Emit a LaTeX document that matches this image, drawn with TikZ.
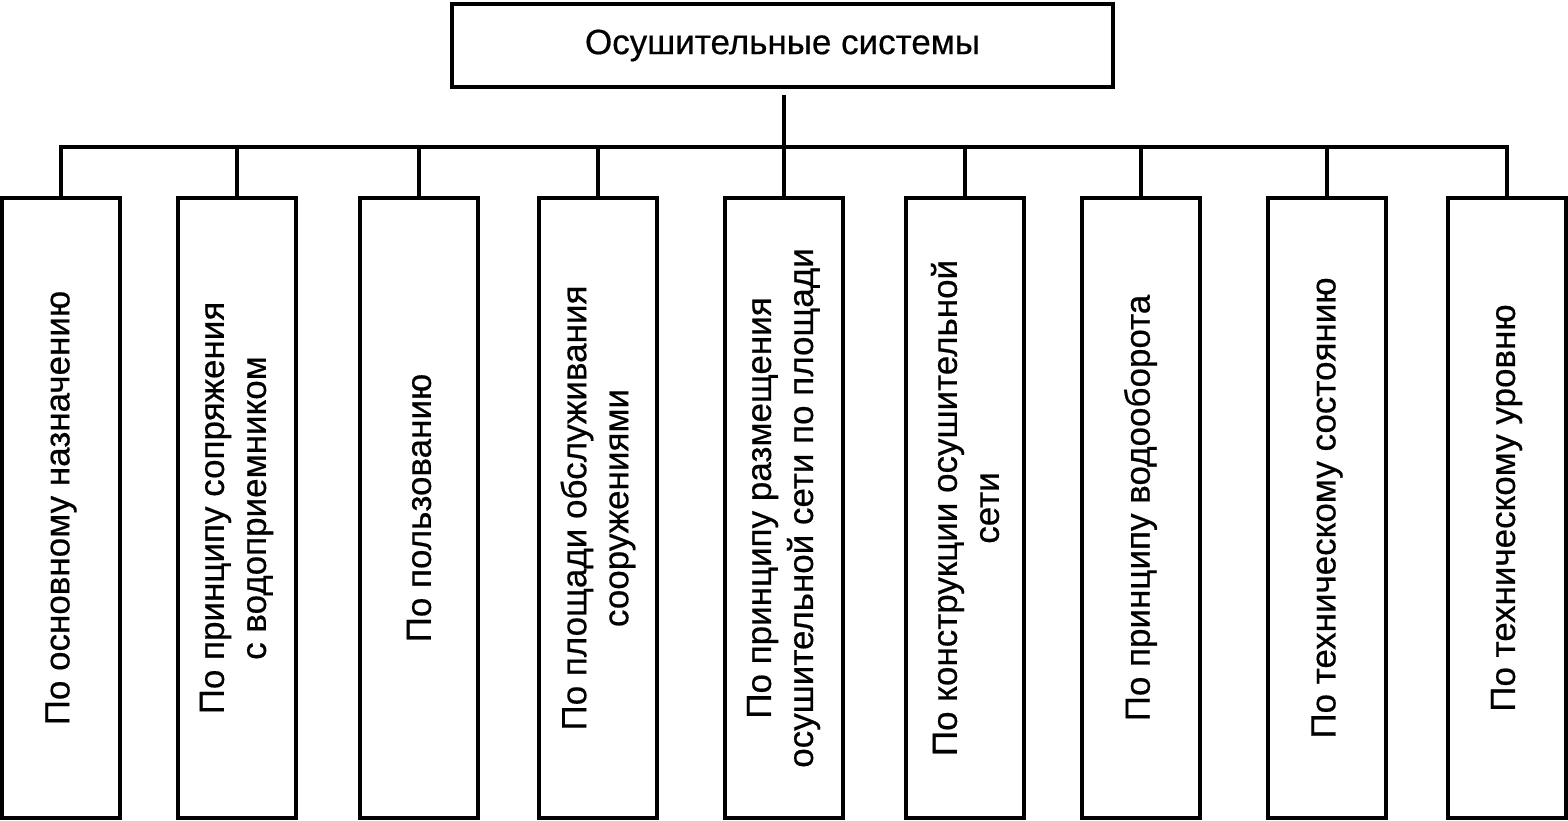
\documentclass[tikz,border=0pt]{standalone}
\usepackage{fontspec}
\setmainfont{Liberation Sans}[FakeBold=0.5]
\newfontfamily\diagfont{Liberation Sans}[FakeBold=0.5]
\begin{document}
\begin{tikzpicture}[x=1pt,y=-1pt,
  line width=4pt,
  catbox/.style={draw, minimum width=118pt, minimum height=620pt, inner sep=0pt},
  cattext/.style={rotate=90, align=center, inner sep=0pt, font=\diagfont\fontsize{35}{42}\selectfont},
  topbox/.style={draw, minimum width=661pt, minimum height=83pt, inner sep=0pt, font=\diagfont\fontsize{35}{42}\selectfont},
  conn/.style={draw, line width=4pt, line cap=rect}]
\useasboundingbox (0,0) rectangle (1568,820);
\node[topbox] (top) at (782.5,45.5) {\raisebox{-2pt}{Осушительные системы}};
\coordinate (hub) at (783.5,147);
\node[catbox] (b1) at (61,508) {};
\node[catbox] (b2) at (236.5,508) {};
\node[catbox] (b3) at (419,508) {};
\node[catbox] (b4) at (598,508) {};
\node[catbox] (b5) at (783.5,508) {};
\node[catbox] (b6) at (965,508) {};
\node[catbox] (b7) at (1140.5,508) {};
\node[catbox] (b8) at (1327,508) {};
\node[catbox] (b9) at (1506.5,508) {};
\node[cattext] (t1) at (b1) {По основному назначению};
\node[cattext] (t2) at (b2) {По принципу сопряжения\\с водоприемником};
\node[cattext] (t3) at (b3) {По пользованию};
\node[cattext] (t4) at (b4) {По площади обслуживания\\сооружениями};
\node[cattext] (t5) at (b5) {По принципу размещения\\осушительной сети по площади};
\node[cattext] (t6) at (b6) {По конструкции осушительной\\сети};
\node[cattext] (t7) at (b7) {По принципу водооборота};
\node[cattext] (t8) at (b8) {По техническому состоянию};
\node[cattext] (t9) at (b9) {По техническому уровню};
\draw[conn, line cap=butt] ([yshift=-6pt]top.south -| hub) -- (hub);
\draw[conn, line cap=butt, line join=miter] (b1.north) -- (b1.north |- hub) -- (b9.north |- hub) -- (b9.north);
\foreach \i in {2,...,8} {\draw[conn, line cap=butt] (b\i.north) -- (b\i.north |- hub);}
\end{tikzpicture}
\end{document}
